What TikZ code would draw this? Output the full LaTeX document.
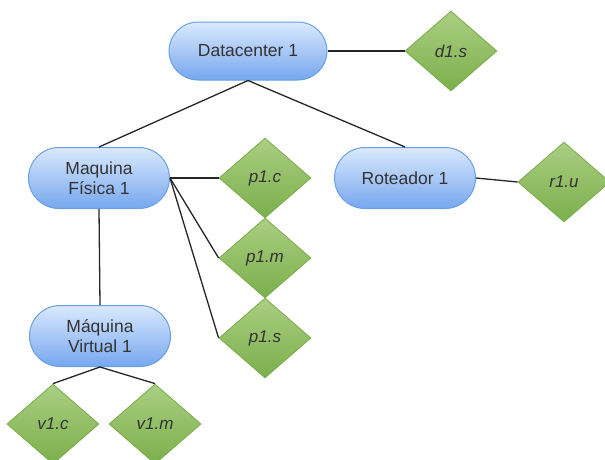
\documentclass[tikz,border=0pt]{standalone}
\usepackage{fontspec}
\setmainfont{Liberation Sans}
\usetikzlibrary{shapes.geometric}
\definecolor{pilltop}{HTML}{DAE9FD}
\definecolor{pillbot}{HTML}{76A7EF}
\definecolor{pilldraw}{HTML}{6A9FE6}
\definecolor{diatop}{HTML}{AACE82}
\definecolor{diabot}{HTML}{7CAF4B}
\definecolor{diadraw}{HTML}{7BAD4B}
\definecolor{txt}{HTML}{333333}
\tikzset{
  pill/.style={draw=pilldraw, line width=1pt, top color=pilltop, bottom color=pillbot,
    rounded corners=30.5pt, minimum width=141pt, minimum height=61pt, inner sep=0pt,
    align=center, text=txt, font=\fontsize{17.5}{20}\selectfont},
  attr/.style={diamond, draw=diadraw, line width=0.8pt, top color=diatop, bottom color=diabot,
    minimum width=92pt, minimum height=80pt, inner sep=0pt, text=txt,
    font=\fontsize{17}{20}\selectfont\itshape},
  link/.style={draw=black!85, line width=1.3pt}
}
\begin{document}
\begin{tikzpicture}[x=1pt,y=-1pt]
\useasboundingbox (0,0) rectangle (605,459);
\node[pill, minimum width=158pt, minimum height=58pt, rounded corners=29pt] (dc) at (248,51) {Datacenter 1};
\node[pill] (pm) at (99,178) {Maquina\\Física 1};
\node[pill] (rt) at (405,178) {Roteador 1};
\node[pill] (vm) at (100,336) {Máquina\\Virtual 1};
\node[attr] (d1s) at (451,51) {d1.s};
\node[attr] (p1c) at (265,178) {p1.c};
\node[attr] (p1m) at (265,258) {p1.m};
\node[attr] (p1s) at (265,338) {p1.s};
\node[attr] (r1u) at (564,182) {r1.u};
\node[attr] (v1c) at (53,424) {v1.c};
\node[attr] (v1m) at (155,424) {v1.m};
\draw[link] (dc.east) -- (d1s.west);
\draw[link] (dc.south) -- (pm.north);
\draw[link] (dc.south) -- (rt.north);
\draw[link] (pm.east) -- (p1c.west);
\draw[link] (pm.east) -- (p1m.west);
\draw[link] (pm.east) -- (p1s.west);
\draw[link] (pm.south) -- (vm.north);
\draw[link] (rt.east) -- (r1u.west);
\draw[link] (vm.south) -- (v1c.north);
\draw[link] (vm.south) -- (v1m.north);
\end{tikzpicture}
\end{document}
